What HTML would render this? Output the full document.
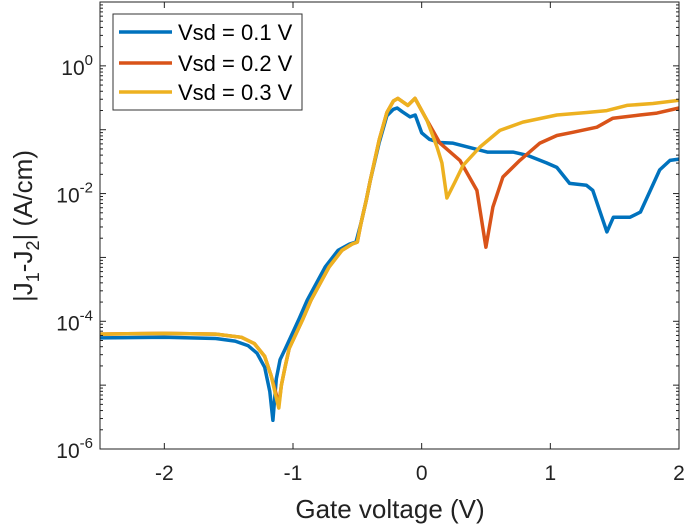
<!DOCTYPE html>
<html><head><meta charset="utf-8"><style>
body{margin:0;background:#fff;}
svg{display:block;font-family:"Liberation Sans",Arial,sans-serif;}
</style></head><body>
<svg id="chart" width="685" height="526" viewBox="0 0 685 526">
<rect x="0" y="0" width="685" height="526" fill="#fff"/>
<g id="series"></g>
<g id="axes"></g>
<text x="390" y="518" font-size="26" text-anchor="middle" fill="#222">Gate voltage (V)</text>
<text transform="translate(32,226) rotate(-90)" font-size="26" text-anchor="middle" fill="#222">|J<tspan font-size="18" dy="7">1</tspan><tspan dy="-7">-J</tspan><tspan font-size="18" dy="7">2</tspan><tspan dy="-7">| (A/cm)</tspan></text>
<g>
<rect x="113" y="14" width="189" height="96" fill="#fff" stroke="#333" stroke-width="1"/>
<line x1="119" y1="32" x2="172" y2="32" stroke="#0072BD" stroke-width="3.5"/>
<text x="178" y="40" font-size="22" fill="#000">Vsd = 0.1 V</text>
<line x1="119" y1="63" x2="172" y2="63" stroke="#D95319" stroke-width="3.5"/>
<text x="178" y="71" font-size="22" fill="#000">Vsd = 0.2 V</text>
<line x1="119" y1="92" x2="172" y2="92" stroke="#EDB120" stroke-width="3.5"/>
<text x="178" y="100" font-size="22" fill="#000">Vsd = 0.3 V</text>
</g>
</svg>
<script>
// Data: gate voltage (V) and log10(|J1-J2|) (A/cm)
const vBlue = [-2.5,-2.0,-1.6,-1.45,-1.35,-1.28,-1.22,-1.18,-1.156,-1.13,-1.1,-1.06,-0.95,-0.89,-0.75,-0.65,-0.56,-0.51,-0.47,-0.43,-0.4,-0.33,-0.27,-0.22,-0.19,-0.15,-0.09,-0.05,0.0,0.06,0.14,0.24,0.51,0.71,0.82,0.97,1.05,1.15,1.28,1.33,1.44,1.49,1.62,1.7,1.85,1.93,2.0];
const logBlue = [-4.26,-4.25,-4.27,-4.31,-4.38,-4.5,-4.72,-5.1,-5.55,-4.9,-4.6,-4.43,-3.95,-3.67,-3.15,-2.89,-2.79,-2.76,-2.45,-2.1,-1.8,-1.2,-0.78,-0.68,-0.66,-0.72,-0.8,-0.77,-1.05,-1.15,-1.2,-1.21,-1.35,-1.35,-1.4,-1.52,-1.59,-1.84,-1.87,-1.95,-2.6,-2.37,-2.37,-2.29,-1.63,-1.48,-1.46];
const vOrange = [-2.5,-2.0,-1.6,-1.4,-1.3,-1.22,-1.17,-1.13,-1.11,-1.09,-1.06,-1.03,-0.92,-0.86,-0.72,-0.62,-0.54,-0.5,-0.47,-0.43,-0.4,-0.33,-0.27,-0.22,-0.185,-0.107,-0.052,0.041,0.142,0.297,0.429,0.499,0.554,0.631,0.763,0.919,1.051,1.175,1.362,1.486,1.696,1.828,2.0];
const logOrange = [-4.2,-4.19,-4.2,-4.25,-4.35,-4.55,-4.85,-5.15,-5.3,-5.0,-4.7,-4.43,-3.95,-3.67,-3.15,-2.89,-2.79,-2.76,-2.45,-2.1,-1.8,-1.16,-0.73,-0.55,-0.51,-0.62,-0.51,-0.85,-1.21,-1.48,-1.95,-2.84,-2.21,-1.74,-1.48,-1.21,-1.09,-1.04,-0.96,-0.82,-0.77,-0.74,-0.66];
const vYellow = [-2.5,-2.0,-1.6,-1.4,-1.3,-1.22,-1.17,-1.13,-1.11,-1.09,-1.06,-1.03,-0.92,-0.86,-0.72,-0.62,-0.54,-0.5,-0.47,-0.43,-0.4,-0.33,-0.27,-0.22,-0.185,-0.107,-0.052,0.041,0.119,0.157,0.196,0.258,0.321,0.453,0.608,0.787,1.051,1.284,1.439,1.595,1.797,2.0];
const logYellow = [-4.2,-4.19,-4.2,-4.25,-4.35,-4.55,-4.85,-5.2,-5.36,-5.0,-4.7,-4.43,-3.95,-3.67,-3.15,-2.89,-2.79,-2.76,-2.45,-2.1,-1.8,-1.16,-0.73,-0.55,-0.51,-0.62,-0.51,-0.85,-1.27,-1.52,-2.07,-1.82,-1.56,-1.27,-1.01,-0.88,-0.77,-0.73,-0.7,-0.62,-0.59,-0.54];
const xTicks = [-2,-1,0,1,2];
const xTickLabels = ["-2","-1","0","1","2"];
const yTickExps = [-6,-4,-2,0];

const L=100,R=679,T=2,B=449, xMin=-2.5,xMax=2, yMin=-6,yMax=1;
const sx=v=>L+(v-xMin)/(xMax-xMin)*(R-L);
const sy=l=>B-(l-yMin)/(yMax-yMin)*(B-T);
const NS="http://www.w3.org/2000/svg";
const sg=document.getElementById('series'), ag=document.getElementById('axes');
function mk(tag,attrs,parent){const e=document.createElementNS(NS,tag);for(const k in attrs)e.setAttribute(k,attrs[k]);parent.appendChild(e);return e;}

[[vBlue,logBlue,'#0072BD','series-vsd-0.1'],[vOrange,logOrange,'#D95319','series-vsd-0.2'],[vYellow,logYellow,'#EDB120','series-vsd-0.3']].forEach(s=>{
  const d=s[0].map((v,i)=>(i?'L':'M')+sx(v).toFixed(1)+','+sy(s[1][i]).toFixed(1)).join(' ');
  const p=mk('path',{d:d,fill:'none',stroke:s[2],'stroke-width':3.5,'stroke-linejoin':'round'},sg);
  
  
});

const box=mk('rect',{x:L,y:T,width:R-L,height:B-T,fill:'none',stroke:'#222','stroke-width':1},ag);


xTicks.forEach((t,i)=>{
  const x=sx(t);
  mk('line',{x1:x,y1:B,x2:x,y2:B-6,stroke:'#222'},ag);
  mk('line',{x1:x,y1:T,x2:x,y2:T+6,stroke:'#222'},ag);
  const tx=mk('text',{x:x,y:B+31,'font-size':21,'text-anchor':'middle',fill:'#222'},ag);
  tx.textContent=xTickLabels[i];
  
  
});
for(let k=yMin;k<yMax;k++){
  for(let m=1;m<10;m++){
    const y=sy(k+Math.log10(m)); const len=m===1?6:3;
    mk('line',{x1:L,y1:y,x2:L+len,y2:y,stroke:'#222'},ag);
    mk('line',{x1:R,y1:y,x2:R-len,y2:y,stroke:'#222'},ag);
  }
}
yTickExps.forEach(e=>{
  const y=sy(e);
  const tx=mk('text',{x:93,y:y+9,'font-size':21,'text-anchor':'end',fill:'#222'},ag);
  
  
  const t1=mk('tspan',{},tx); t1.textContent='10';
  const t2=mk('tspan',{'font-size':15,dy:-10},tx); t2.textContent=String(e);
});
</script>
</body></html>
